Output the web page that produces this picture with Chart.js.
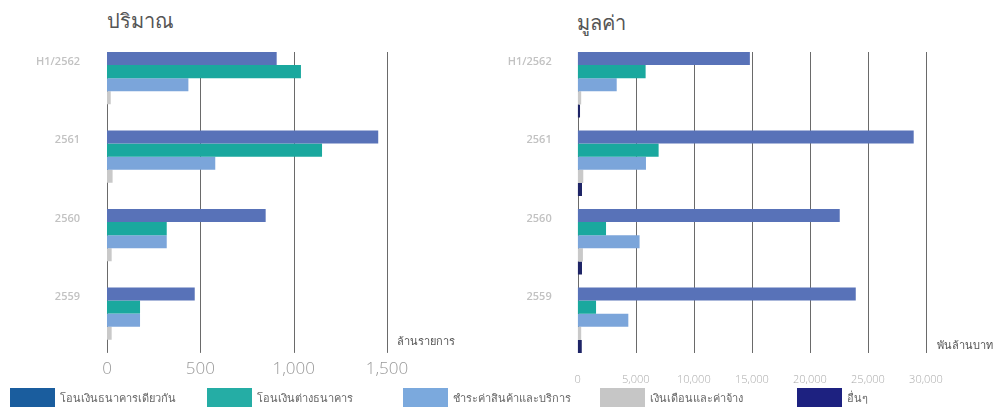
<!DOCTYPE html>
<html>
<head>
<meta charset="utf-8">
<script src="https://cdn.jsdelivr.net/npm/chart.js@4"></script>
<style>
  body { margin: 0; width: 1004px; height: 407px; background: #fff; overflow: hidden;
         font-family: "Noto Sans", "DejaVu Sans", sans-serif; }
  .box { position: absolute; }
  .title { position: absolute; font-size: 20px; color: #555; font-weight: normal; }
  .unit { position: absolute; font-size: 11px; color: #555; }
  #legend { position: absolute; left: 0; top: 388px; width: 1004px; height: 19px; }
  .item { position: absolute; top: 0; height: 19px; display: flex; align-items: center;
          font-size: 11px; color: #666; }
  .sw { width: 45px; height: 19px; margin-right: 5px; }
</style>
</head>
<body>
<div class="title" style="left:107px; top:5px;">ปริมาณ</div>
<div class="title" style="left:577px; top:7px;">มูลค่า</div>
<div class="box" style="left:0; top:0; width:480px; height:385px;"><canvas id="volume"></canvas></div>
<div class="box" style="left:480px; top:0; width:524px; height:392px;"><canvas id="value"></canvas></div>
<div class="unit" style="left:397px; top:332px;">ล้านรายการ</div>
<div class="unit" style="left:937px; top:336px;">พันล้านบาท</div>
<div id="legend"></div>

<script>
const periods = ["H1/2562", "2561", "2560", "2559"];
const seriesNames = [
  "โอนเงินธนาคารเดียวกัน",
  "โอนเงินต่างธนาคาร",
  "ชำระค่าสินค้าและบริการ",
  "เงินเดือนและค่าจ้าง",
  "อื่นๆ",
];

// ปริมาณ (ล้านรายการ)
const volSameBank = [909, 1453, 850, 470];
const volInterBank = [1039, 1152, 320, 177];
const volPayments = [436, 580, 320, 177];
const volSalary = [20, 30, 25, 25];
const volOther = [0, 0, 0, 0];

// มูลค่า (พันล้านบาท)
const valSameBank = [14830, 28940, 22570, 23950];
const valInterBank = [5850, 6970, 2440, 1580];
const valPayments = [3360, 5880, 5330, 4360];
const valSalary = [300, 480, 450, 300];
const valOther = [200, 370, 370, 350];

const volTicks = [0, 500, 1000, 1500];
const valTicks = [0, 5000, 10000, 15000, 20000, 25000, 30000];

const barColors = ["#5872b8", "#1aa89e", "#7ba5da", "#c9c9c9", "#1e2466"];
const legendColors = ["#1a5d9e", "#25ada5", "#7ba9dd", "#c6c6c6", "#1d2180"];
const legendLeft = [10, 207, 403, 600, 797];

const CAT_PCT = 0.834;

// vertical lines at each x tick, trimmed to the span of the bar groups
const gridLines = {
  id: "gridLines",
  beforeDatasetsDraw(chart) {
    const { ctx, chartArea, scales } = chart;
    const catW = (chartArea.bottom - chartArea.top) / periods.length;
    const gap = catW * (1 - CAT_PCT) / 2;
    ctx.save();
    ctx.strokeStyle = "#6a6a6a";
    ctx.lineWidth = 1;
    scales.x.ticks.forEach((t) => {
      const x = Math.round(scales.x.getPixelForValue(t.value)) + 0.5;
      ctx.beginPath();
      ctx.moveTo(x, chartArea.top + gap);
      ctx.lineTo(x, chartArea.bottom - gap);
      ctx.stroke();
    });
    ctx.restore();
  },
};

function makeChart(id, values, opts) {
  return new Chart(document.getElementById(id), {
    type: "bar",
    data: {
      labels: periods,
      datasets: values.map((data, i) => ({
        label: seriesNames[i],
        data: data,
        backgroundColor: barColors[i],
        borderWidth: 0,
        barPercentage: 1,
        categoryPercentage: CAT_PCT,
      })),
    },
    options: {
      indexAxis: "y",
      responsive: true,
      maintainAspectRatio: false,
      animation: false,
      layout: { padding: { top: 45.5, right: opts.padRight, bottom: 0, left: 0 } },
      plugins: { legend: { display: false }, tooltip: { enabled: false } },
      scales: {
        x: {
          min: 0,
          max: opts.max,
          afterBuildTicks: (axis) => {
            axis.ticks = opts.ticks.map((v) => ({ value: v }));
          },
          grid: { display: false },
          border: { display: false },
          ticks: {
            color: opts.tickColor,
            font: { family: "'Open Sans', sans-serif", size: opts.tickSize, weight: "300" },
            padding: opts.tickPad,
            maxRotation: 0,
            callback: (v) => v.toLocaleString("en-US"),
          },
          afterFit: (axis) => { axis.height = opts.axisHeight; },
        },
        y: {
          grid: { display: false },
          border: { display: false },
          ticks: {
            color: "#c2c2c2",
            font: { family: "'Open Sans', sans-serif", size: 11, weight: "600" },
            padding: opts.labelPad,
            labelOffset: -23,
          },
          afterFit: (axis) => { axis.width = opts.axisWidth; },
        },
      },
    },
    plugins: [gridLines],
  });
}

makeChart("volume",
  [volSameBank, volInterBank, volPayments, volSalary, volOther],
  { max: 1500, ticks: volTicks, padRight: 93, axisWidth: 107, labelPad: 19,
    tickColor: "#999", tickSize: 17, tickPad: -8, axisHeight: 25.5 });

makeChart("value",
  [valSameBank, valInterBank, valPayments, valSalary, valOther],
  { max: 30000, ticks: valTicks, padRight: 78, axisWidth: 97.7, labelPad: 18,
    tickColor: "#aaa", tickSize: 11, tickPad: 6, axisHeight: 32.5 });

const legend = document.getElementById("legend");
seriesNames.forEach((name, i) => {
  const item = document.createElement("div");
  item.className = "item";
  item.style.left = legendLeft[i] + "px";
  const sw = document.createElement("div");
  sw.className = "sw";
  sw.style.background = legendColors[i];
  const txt = document.createElement("span");
  txt.textContent = name;
  item.appendChild(sw);
  item.appendChild(txt);
  legend.appendChild(item);
});
</script>
</body>
</html>
